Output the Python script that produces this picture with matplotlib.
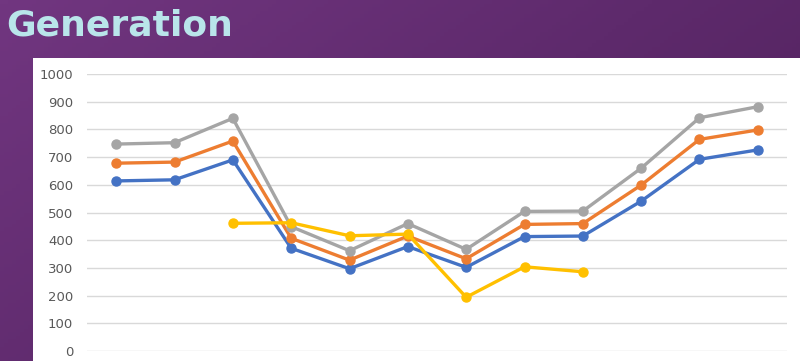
import numpy as np
import matplotlib
matplotlib.use("Agg")
import matplotlib.pyplot as plt
from matplotlib.colors import LinearSegmentedColormap

# Chart data
categories = list(range(1, 13))
blue = [614, 618, 690, 371, 297, 377, 302, 413, 415, 541, 692, 726]
orange = [678, 682, 758, 407, 328, 415, 333, 457, 460, 599, 764, 798]
gray = [747, 752, 840, 449, 362, 460, 367, 504, 505, 660, 842, 882]
yellow = [None, None, 461, 463, 416, 422, 194, 304, 286, None, None, None]

series = [
    (blue, "#4472C4"),
    (orange, "#ED7D31"),
    (gray, "#A5A5A5"),
    (yellow, "#FFC000"),
]

fig = plt.figure(figsize=(8, 3.61), dpi=100)

# purple slide background
bg = fig.add_axes([0, 0, 1, 1])
gx, gy = np.meshgrid(np.linspace(0, 1, 200), np.linspace(0, 1, 100))
shade = 0.55 * gx + 0.35 * gy
cmap = LinearSegmentedColormap.from_list("slide", ["#713680", "#5e2a6c", "#4e2059"])
bg.imshow(shade, cmap=cmap, aspect="auto", extent=[0, 1, 0, 1], origin="upper")
bg.set_xlim(0, 1)
bg.set_ylim(0, 1)
bg.axis("off")

# white chart panel
panel = fig.add_axes([33 / 800, 0, 767 / 800, 303 / 361])
panel.set_facecolor("white")
panel.set_xticks([])
panel.set_yticks([])
for s in panel.spines.values():
    s.set_visible(False)

fig.text(6 / 800, 1 - 36 / 361, "Generation", color="#b9e5ea", fontsize=26,
         fontweight="bold", family="DejaVu Sans", ha="left", va="baseline")

ax = fig.add_axes([87 / 800, 10 / 361, 700 / 800, 277 / 361])
ax.set_facecolor("none")
x = np.arange(len(categories))
for vals, col in series:
    y = np.array([np.nan if v is None else v for v in vals], dtype=float)
    ax.plot(x, y, color=col, lw=2.4, marker="o", ms=6.5, zorder=3,
            solid_capstyle="round")

ax.set_xlim(-0.5, len(categories) - 0.5)
ax.set_ylim(0, 1000)
ax.set_yticks(range(0, 1001, 100))
ax.set_xticks([])
ax.grid(axis="y", color="#d9d9d9", lw=1)
ax.set_axisbelow(True)
ax.tick_params(axis="y", length=0, pad=10, labelsize=9.5, labelcolor="#595959")
for s in ax.spines.values():
    s.set_visible(False)

fig.savefig("out.png", dpi=100)
